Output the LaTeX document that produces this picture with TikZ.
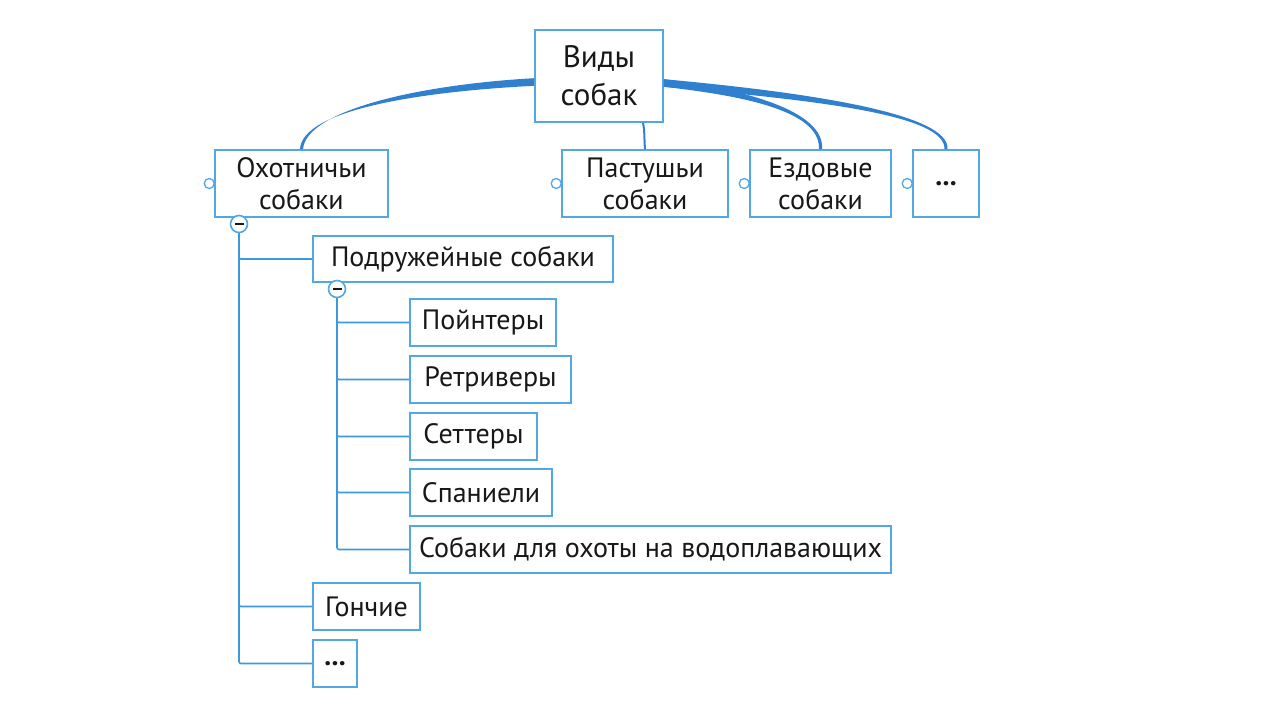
\documentclass[tikz,border=0pt]{standalone}
\usepackage{fontspec}
\setmainfont{PT Sans}
\definecolor{frameblue}{RGB}{82,167,228}
\definecolor{lineblue}{RGB}{62,152,220}
\definecolor{boughblue}{RGB}{48,128,208}
\definecolor{ink}{RGB}{24,24,24}

% tapered branch from the root: start, two controls, end
\newcommand{\bough}[4]{%
  \fill[boughblue] ([yshift=-3.8pt]#1) .. controls ([yshift=-3.5pt]#2) and ([xshift=-2.2pt]#3) .. ([xshift=-1.5pt]#4)
    -- ([xshift=1.5pt]#4) .. controls ([xshift=2.2pt]#3) and ([yshift=3.5pt]#2) .. ([yshift=3.8pt]#1) -- cycle;}

\begin{document}
\begin{tikzpicture}[x=1pt, y=-1pt,
    box/.style={draw=frameblue, line width=1.6pt, fill=white, text=ink, inner sep=0pt,
      align=center, font=\fontsize{28}{32}\selectfont},
    rootbox/.style={box, font=\fontsize{31}{38}\selectfont},
    knob/.style={circle, draw=frameblue, line width=1.3pt, fill=white, minimum size=10pt, inner sep=0pt},
    fold/.style={circle, draw=frameblue, line width=1.6pt, fill=white, minimum size=17pt, inner sep=0pt,
      path picture={\draw[ink, line width=2pt] ([xshift=-4.5pt]path picture bounding box.center)
        -- ([xshift=4.5pt]path picture bounding box.center);}},
    twig/.style={draw=lineblue, line width=1.6pt, rounded corners=2pt}]
  \useasboundingbox (0,0) rectangle (1284,707);

  % top row
  \node[rootbox, minimum width=128pt, minimum height=92pt] (root) at (599,76) {Виды\\собак};
  \node[box, minimum width=173pt, minimum height=67pt] (hunt) at (301.5,183.5) {Охотничьи\\собаки};
  \node[box, minimum width=166pt, minimum height=67pt] (herd) at (645,183.5) {Пастушьи\\собаки};
  \node[box, minimum width=141pt, minimum height=67pt] (sled) at (820.5,183.5) {Ездовые\\собаки};
  \node[box, minimum width=66pt, minimum height=67pt] (etc) at (946,183.5) {\textbf{...}};

  % branches from the root
  \coordinate (rootW) at ([yshift=-6pt]root.west);
  \coordinate (rootE) at ([yshift=-7pt]root.east);
  \bough{rootW}{420,88}{304,110}{hunt.north};
  \bough{rootE}{740,92}{823,110}{sled.north};
  \bough{rootE}{820,97}{948,115}{etc.north};
  \draw[boughblue, line width=2pt] ([xshift=44pt]root.south) .. controls +(2,10) and +(-1,-12) .. (herd.north);

  \node[knob] (k1) at ([xshift=-5pt]hunt.west) {};
  \node[knob] (k2) at ([xshift=-5pt]herd.west) {};
  \node[knob] (k3) at ([xshift=-5pt]sled.west) {};
  \node[knob] (k4) at ([xshift=-5pt]etc.west) {};

  % hunting dogs
  \node[box, minimum width=300pt, minimum height=46pt] (gun) at (463,259) {Подружейные собаки};
  \node[box, minimum width=146pt, minimum height=47pt] (point) at (483,322.5) {Пойнтеры};
  \node[box, minimum width=161pt, minimum height=47pt] (retr) at (490.5,379.5) {Ретриверы};
  \node[box, minimum width=127pt, minimum height=47pt] (sett) at (473.5,436.5) {Сеттеры};
  \node[box, minimum width=142pt, minimum height=47pt] (span) at (481,492.5) {Спаниели};
  \node[box, minimum width=481pt, minimum height=47pt] (water) at (650.5,549.5) {Собаки для охоты на водоплавающих};
  \node[box, minimum width=107pt, minimum height=47pt] (hound) at (366.5,606.5) {Гончие};
  \node[box, minimum width=44pt, minimum height=47pt] (more) at (335,663.5) {\textbf{...}};

  \coordinate (f1) at (239,224);
  \coordinate (f2) at (337,289);
  \foreach \n in {gun, hound, more} \draw[twig] (f1) |- (\n.west);
  \foreach \n in {point, retr, sett, span, water} \draw[twig] (f2) |- (\n.west);
  \node[fold] (m1) at (f1) {};
  \node[fold] (m2) at (f2) {};
\end{tikzpicture}
\end{document}
